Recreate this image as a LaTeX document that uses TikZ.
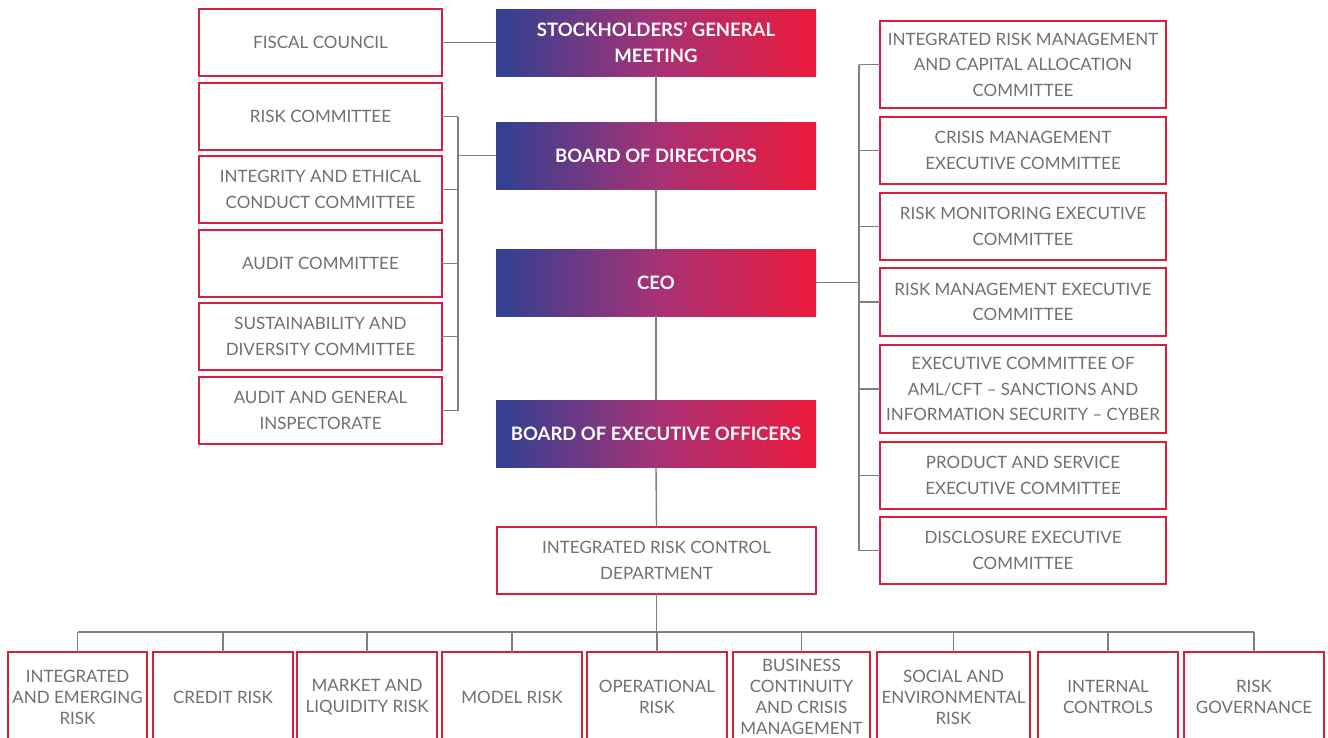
\documentclass[tikz,border=0pt]{standalone}
\usepackage{fontspec}
\setmainfont{Lato}
\definecolor{tgray}{RGB}{112,112,114}
\definecolor{bred}{RGB}{214,32,62}
\definecolor{lgray}{RGB}{128,128,128}
\definecolor{gblue}{RGB}{52,64,145}
\definecolor{gmid}{RGB}{165,50,118}
\definecolor{gred}{RGB}{237,26,59}
\pgfdeclarehorizontalshading{brand}{100bp}{color(0bp)=(gblue); color(26bp)=(gblue); color(50bp)=(gmid); color(75bp)=(gred); color(100bp)=(gred)}
\tikzset{
  hbox/.style={shade, shading=brand, minimum width=320, minimum height=67, inner sep=0, outer sep=0, text=white, font=\bfseries\fontsize{18.5}{26}\selectfont, align=center},
  wbox/.style={draw=bred, line width=1.3pt, fill=white, inner sep=0, outer sep=0, text=tgray, font=\fontsize{17}{25.5}\selectfont, align=center},
  lbox/.style={wbox, minimum width=243, minimum height=67},
  rbox/.style={wbox, minimum width=286, minimum height=67},
  bbox/.style={wbox, minimum height=90, font=\fontsize{17}{21}\selectfont},
  conn/.style={draw=lgray, line width=1.4pt}
}
\begin{document}
\begin{tikzpicture}[x=1pt,y=-1pt]
\path[use as bounding box, clip] (0,0) rectangle (1328,737);
\fill[white] (0,0) rectangle (1328,737);
% center column
\node[hbox] (sgm) at (656,42.5) {STOCKHOLDERS’ GENERAL\\MEETING};
\node[hbox] (bod) at (656,155.5) {BOARD OF DIRECTORS};
\node[hbox] (ceo) at (656,282.5) {CEO};
\node[hbox] (beo) at (656,433.5) {BOARD OF EXECUTIVE OFFICERS};
\node[wbox, minimum width=319, minimum height=67] (ircd) at (656.5,560.5) {INTEGRATED RISK CONTROL\\DEPARTMENT};
% left column
\node[lbox] (fc) at (320.5,42.5) {FISCAL COUNCIL};
\node[lbox] (rc) at (320.5,116.5) {RISK COMMITTEE};
\node[lbox] (iec) at (320.5,189.5) {INTEGRITY AND ETHICAL\\CONDUCT COMMITTEE};
\node[lbox] (ac) at (320.5,263.5) {AUDIT COMMITTEE};
\node[lbox] (sdc) at (320.5,336.5) {SUSTAINABILITY AND\\DIVERSITY COMMITTEE};
\node[lbox] (agi) at (320.5,410.5) {AUDIT AND GENERAL\\INSPECTORATE};
% right column
\node[rbox, minimum height=87] (irm) at (1023,64.5) {INTEGRATED RISK MANAGEMENT\\AND CAPITAL ALLOCATION\\COMMITTEE};
\node[rbox] (cme) at (1023,150.5) {CRISIS MANAGEMENT\\EXECUTIVE COMMITTEE};
\node[rbox] (rmon) at (1023,226.5) {RISK MONITORING EXECUTIVE\\COMMITTEE};
\node[rbox, minimum height=68] (rmgt) at (1023,302) {RISK MANAGEMENT EXECUTIVE\\COMMITTEE};
\node[rbox, minimum height=88] (aml) at (1023,389) {EXECUTIVE COMMITTEE OF\\AML/CFT – SANCTIONS AND\\INFORMATION SECURITY – CYBER};
\node[rbox] (pse) at (1023,475.5) {PRODUCT AND SERVICE\\EXECUTIVE COMMITTEE};
\node[rbox] (dec) at (1023,550.5) {DISCLOSURE EXECUTIVE\\COMMITTEE};
% bottom row
\node[bbox, minimum width=139] (b1) at (77.5,697) {INTEGRATED\\AND EMERGING\\RISK};
\node[bbox, minimum width=140] (b2) at (223,697) {CREDIT RISK};
\node[bbox, minimum width=140] (b3) at (367,697) {MARKET AND\\LIQUIDITY RISK};
\node[bbox, minimum width=140] (b4) at (512,697) {MODEL RISK};
\node[bbox, minimum width=140] (b5) at (657,697) {OPERATIONAL\\RISK};
\node[bbox, minimum width=137] (b6) at (801.5,697) {BUSINESS\\CONTINUITY\\AND CRISIS\\MANAGEMENT};
\node[bbox, minimum width=153] (b7) at (953.5,697) {SOCIAL AND\\ENVIRONMENTAL\\RISK};
\node[bbox, minimum width=140] (b8) at (1108,697) {INTERNAL\\CONTROLS};
\node[bbox, minimum width=140] (b9) at (1254,697) {RISK\\GOVERNANCE};
% helper coordinates
\coordinate (lx) at (458,0);
\coordinate (rx) at (859,0);
\coordinate (by) at (0,632);
% connectors center
\draw[conn] (sgm.south) -- (bod.north);
\draw[conn] (bod.south) -- (ceo.north);
\draw[conn] (ceo.south) -- (beo.north);
\draw[conn] (beo.south) -- (ircd.north);
\draw[conn] (fc.east) -- (sgm.west);
% left bracket
\draw[conn] (bod.west) -- (bod.west -| lx);
\draw[conn] (rc.east -| lx) -- (agi.east -| lx);
\foreach \n in {rc,iec,ac,sdc,agi} \draw[conn] (\n.east) -- (\n.east -| lx);
% right bracket
\draw[conn] (ceo.east) -- (ceo.east -| rx);
\draw[conn] (irm.west -| rx) -- (dec.west -| rx);
\foreach \n in {irm,cme,rmon,rmgt,aml,pse,dec} \draw[conn] (\n.west) -- (\n.west -| rx);
% bottom bus
\draw[conn] (ircd.south) -- (ircd.south |- by);
\draw[conn] (b1.north |- by) -- (b9.north |- by);
\foreach \n in {b1,b2,b3,b4,b5,b6,b7,b8,b9} \draw[conn] (\n.north |- by) -- (\n.north);
\end{tikzpicture}
\end{document}
